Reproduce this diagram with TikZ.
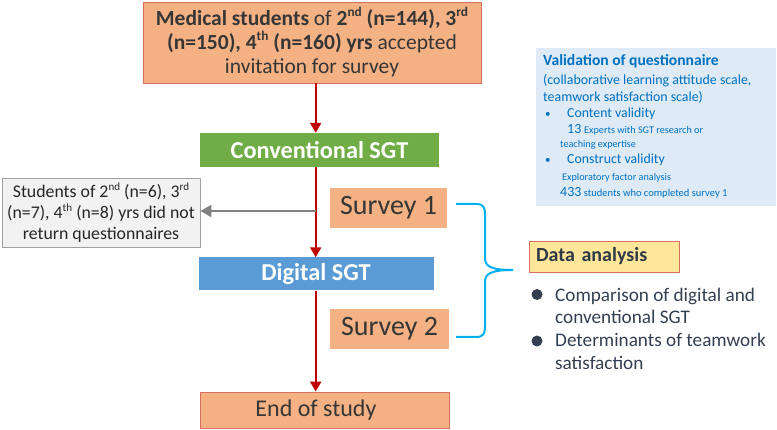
\documentclass[tikz,border=0pt]{standalone}
\usepackage{fontspec}
\setmainfont{Carlito}
\usetikzlibrary{arrows.meta}

\definecolor{salmon}{HTML}{F4B183}
\definecolor{salmonline}{HTML}{D9705F}
\definecolor{darktext}{HTML}{363636}
\definecolor{sgtgreen}{HTML}{70AD47}
\definecolor{sgtblue}{HTML}{5B9BD5}
\definecolor{arrowred}{HTML}{C00000}
\definecolor{dropfill}{HTML}{F2F2F2}
\definecolor{dropline}{HTML}{A0A0A0}
\definecolor{bracecyan}{HTML}{00B0F0}
\definecolor{dayellow}{HTML}{FFE699}
\definecolor{danavy}{HTML}{333F50}
\definecolor{valfill}{HTML}{DEEBF7}
\definecolor{valblue}{HTML}{0070C0}

\newcommand{\ordsup}[1]{\raisebox{0.42em}{\scalebox{0.62}{#1}}}

\tikzset{
    box/.style = {rectangle, inner sep = 0pt, align = center},
    salmonbox/.style = {box, fill = salmon, draw = salmonline, line width = 0.8pt, text = darktext},
    surveybox/.style = {box, fill = salmon, text = darktext, font = \fontsize{28}{30}\selectfont},
    sgtbox/.style = {box, text = white, font = \bfseries\fontsize{24.3}{26}\selectfont},
    flowarrow/.style = {draw = arrowred, line width = 2pt, -{Triangle[width = 11pt, length = 10pt]}},
    droparrow/.style = {draw = gray, line width = 2pt, -{Triangle[width = 12pt, length = 11pt]}},
    vtext/.style = {anchor = base west, inner sep = 0pt, text = valblue},
    datext/.style = {anchor = base west, inner sep = 0pt, text = danavy, font = \fontsize{19.2}{23}\selectfont}
}

\begin{document}
\begin{tikzpicture}[x = 1pt, y = -1pt]
    \useasboundingbox (0, 0) rectangle (777, 430);

    \coordinate (spine) at (315.7, 0);

    \node[salmonbox, minimum width = 338, minimum height = 81, font = \fontsize{21.5}{24}\selectfont] (invite) at (312, 42.5)
        {\textbf{Medical students} of \textbf{2\ordsup{nd} (n=144), 3\ordsup{rd}} \\
         \textbf{(n=150), 4\ordsup{th} (n=160) yrs} accepted \\
         invitation for survey};

    \node[sgtbox, fill = sgtgreen, minimum width = 239, minimum height = 34] (conv) at (319.5, 150) {Conventional SGT};
    \node[sgtbox, fill = sgtblue, minimum width = 235, minimum height = 33] (digital) at (316, 274) {Digital SGT};

    \node[salmonbox, minimum width = 249, minimum height = 36, font = \fontsize{24}{26}\selectfont] (end) at (324.5, 410)
        {End of study\hspace*{17pt}};

    \node[surveybox, minimum width = 117, minimum height = 40] (survey1) at (388.5, 208) {Survey 1};
    \node[surveybox, minimum width = 119, minimum height = 40] (survey2) at (389.5, 329) {Survey 2};

    \node[box, fill = dropfill, draw = dropline, line width = 0.8pt, minimum width = 198, minimum height = 69,
          text = black!85, font = \fontsize{17.8}{21}\selectfont] (drop) at (101, 212.8)
        {Students of 2\ordsup{nd} (n=6), 3\ordsup{rd} \\
         (n=7), 4\ordsup{th} (n=8) yrs did not \\
         return questionnaires};

    \draw[flowarrow] (invite.south -| spine) -- (conv.north -| spine);
    \draw[flowarrow] (conv.south -| spine) -- (digital.north -| spine);
    \draw[flowarrow] (digital.south -| spine) -- (end.north -| spine);

    \coordinate (split) at (315.7, 211);
    \draw[droparrow] (split) -- (drop.east |- split);

    \coordinate (brace top) at (456, 204);
    \coordinate (brace tip) at (513, 270);
    \coordinate (brace bottom) at (456, 337);
    \draw[bracecyan, line width = 2pt]
        (brace top) -- (476, 204) .. controls (483, 204) and (485, 207) .. (485, 214)
        -- (485, 258) .. controls (485, 266) and (490, 270) .. (brace tip)
        .. controls (490, 270) and (485, 274) .. (485, 282)
        -- (485, 327) .. controls (485, 334) and (483, 337) .. (476, 337) -- (brace bottom);

    \node[box, fill = dayellow, draw = salmonline, line width = 0.8pt, text width = 136, inner xsep = 7,
          minimum height = 31, align = left, text = danavy!90!black, font = \bfseries\fontsize{20}{24}\selectfont]
        (analysis) at (604, 256.5) {Data analysis};

    \fill[danavy] (537, 294.5) circle (5.5);
    \fill[danavy] (537, 341) circle (5.5);
    \node[datext] (da1) at (555, 301.7) {Comparison of digital and};
    \node[datext] (da2) at (555, 324) {conventional SGT};
    \node[datext] (da3) at (555, 347) {Determinants of teamwork};
    \node[datext] (da4) at (555, 369.5) {satisfaction};

    \node[box, fill = valfill, minimum width = 240, minimum height = 158] (valid) at (656, 127) {};
    \node[vtext, font = \bfseries\fontsize{15.6}{18}\selectfont] (v1) at (543, 65.7) {Validation of questionnaire};
    \node[vtext, font = \fontsize{13.9}{16}\selectfont] (v2) at (543, 85) {(collaborative learning attitude scale,};
    \node[vtext, font = \fontsize{13.9}{16}\selectfont] (v3) at (543, 101.7) {teamwork satisfaction scale)};
    \node[vtext, font = \fontsize{11}{12}\selectfont] (b1) at (545, 117.7) {•};
    \node[vtext, font = \fontsize{13.8}{16}\selectfont] (v4) at (567, 117.7) {Content validity};
    \node[vtext, font = \fontsize{14}{16}\selectfont] (v5) at (567, 134) {13};
    \node[vtext, font = \fontsize{10.2}{12}\selectfont] (v5b) at (584, 134) {Experts with SGT research or};
    \node[vtext, font = \fontsize{10.2}{12}\selectfont] (v6) at (560, 148) {teaching expertise};
    \node[vtext, font = \fontsize{11}{12}\selectfont] (b2) at (545, 164) {•};
    \node[vtext, font = \fontsize{13.8}{16}\selectfont] (v7) at (567, 164) {Construct validity};
    \node[vtext, font = \fontsize{10.2}{12}\selectfont] (v8) at (562, 180.7) {Exploratory factor analysis};
    \node[vtext, font = \fontsize{10.5}{12}\selectfont] (v9) at (560, 197) {{\fontsize{14}{16}\selectfont 433} students who completed survey 1};
\end{tikzpicture}
\end{document}
